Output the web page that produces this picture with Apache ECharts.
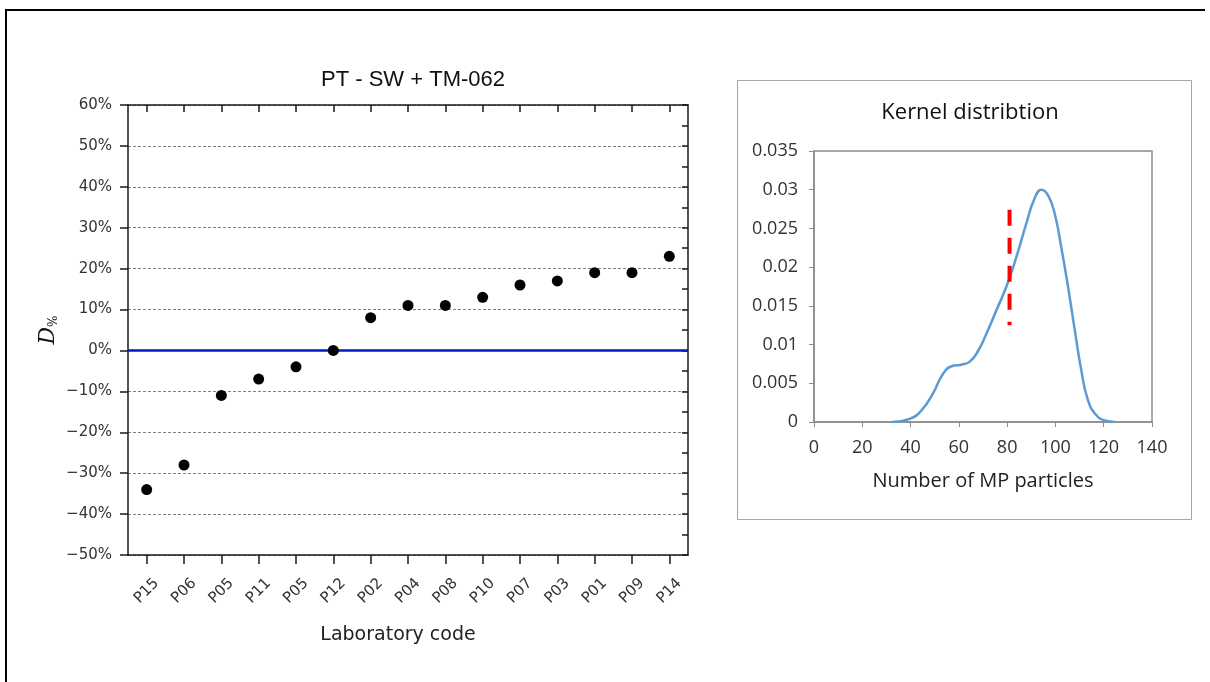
<!DOCTYPE html>
<html>
<head>
<meta charset="utf-8">
<script src="https://cdn.jsdelivr.net/npm/echarts@6/dist/echarts.min.js"></script>
<style>
html,body{margin:0;padding:0;background:#fff;}
#chart{width:1210px;height:682px;}
</style>
</head>
<body>
<div id="chart"></div>
<script>
// Left panel: laboratory deviations (D%)
const labCodes = ['P15','P06','P05','P11','P05','P12','P02','P04','P08','P10','P07','P03','P01','P09','P14'];
const labDeviation = [-34, -28, -11, -7, -4, 0, 8, 11, 11, 13, 16, 17, 19, 19, 23];
const leftTitle = 'PT - SW + TM-062';

// Right panel: kernel distribution
const kernelX = [32.3, 39.6, 44.5, 49.3, 53.4, 57.0, 61.0, 64.5, 68.0, 71.4, 75.5, 79.7, 83.8, 87.9, 91.4, 94.2, 96.9, 99.7, 102.4, 105.2, 108.0, 110.7, 113.5, 116.9, 120.4, 124.5];
const kernelY = [0, 0.0004, 0.0015, 0.0037, 0.0062, 0.0072, 0.0074, 0.0078, 0.0092, 0.0114, 0.0144, 0.0175, 0.0213, 0.0256, 0.0289, 0.030, 0.0293, 0.0269, 0.0226, 0.0175, 0.0119, 0.0067, 0.0028, 0.0009, 0.0002, 0];
const refLineX = 81;
const refLineY = [0.0274, 0.0125];
const rightTitle = 'Kernel distribtion';

const chart = echarts.init(document.getElementById('chart'));
const axisColor = '#1a1a1a';
const leftFont = 'DejaVu Sans';
const rightFont = 'Open Sans';

chart.setOption({
  animation: false,
  backgroundColor: '#fff',
  title: [
    {text: leftTitle, left: 408, top: 64, textAlign: 'center',
     textStyle: {fontFamily: 'Liberation Sans', fontSize: 22, fontWeight: 'normal', color: '#111'}},
    {text: rightTitle, left: 965, top: 97, textAlign: 'center',
     textStyle: {fontFamily: rightFont, fontSize: 22, fontWeight: 'normal', color: '#111'}}
  ],
  grid: [
    {left: 128, top: 105, width: 560, height: 450},
    {left: 814, top: 151, width: 338, height: 271, show: true, borderColor: '#8c8c8c', borderWidth: 1.5, backgroundColor: 'transparent'}
  ],
  xAxis: [
    {type: 'category', gridIndex: 0, position: 'bottom', data: labCodes, boundaryGap: true,
     axisLine: {show: true, onZero: false, lineStyle: {color: axisColor, width: 1.5}},
     axisTick: {show: true, interval: 0, alignWithLabel: true, inside: false, length: 9, lineStyle: {color: axisColor, width: 1.5}},
     axisLabel: {rotate: 45, align: 'center', verticalAlign: 'middle', fontFamily: leftFont, fontSize: 15, color: '#333', margin: 36, interval: 0},
     name: 'Laboratory code', nameLocation: 'middle', nameGap: 71,
     nameTextStyle: {fontFamily: leftFont, fontSize: 19, color: '#222', padding: [0, 20, 0, 0]}},
    {type: 'category', gridIndex: 0, position: 'top', data: labCodes, boundaryGap: true,
     axisLine: {show: true, onZero: false, lineStyle: {color: axisColor, width: 1.5}},
     axisTick: {show: true, interval: 0, alignWithLabel: true, inside: true, length: 7, lineStyle: {color: axisColor, width: 1.5}},
     axisLabel: {show: false}},
    {type: 'value', gridIndex: 1, min: 0, max: 140, interval: 20,
     axisLine: {show: true, onZero: false, lineStyle: {color: '#8c8c8c', width: 1.5}},
     axisTick: {show: true, length: 5, lineStyle: {color: '#8c8c8c'}},
     axisLabel: {fontFamily: rightFont, fontSize: 18, color: '#333', margin: 17},
     splitLine: {show: false},
     name: 'Number of MP particles', nameLocation: 'middle', nameGap: 49,
     nameTextStyle: {fontFamily: rightFont, fontSize: 20, color: '#222'}}
  ],
  yAxis: [
    {type: 'value', gridIndex: 0, min: -50, max: 60, interval: 10,
     axisLine: {show: true, onZero: false, lineStyle: {color: axisColor, width: 1.5}},
     axisTick: {show: true, inside: false, length: 8, lineStyle: {color: axisColor, width: 1.5}},
     axisLabel: {fontFamily: leftFont, fontSize: 15, color: '#333', margin: 16,
       formatter: v => (v < 0 ? '\u2212' + (-v) : v) + '%'},
     splitLine: {show: true, lineStyle: {color: '#808080', type: [3, 2], width: 1}},
     name: '{d|D}{s|%}', nameLocation: 'middle', nameRotate: 90, nameGap: 68,
     nameTextStyle: {rich: {
       d: {fontFamily: 'DejaVu Serif', fontStyle: 'italic', fontSize: 22, color: '#111'},
       s: {fontFamily: 'DejaVu Serif', fontSize: 12, color: '#111', padding: [12, 0, 0, 0]}
     }}},
    {type: 'value', gridIndex: 0, position: 'right', min: -50, max: 60, interval: 5,
     axisLine: {show: true, onZero: false, lineStyle: {color: axisColor, width: 1.5}},
     axisTick: {show: true, inside: true, length: 6, lineStyle: {color: axisColor, width: 1.5}},
     axisLabel: {show: false}, splitLine: {show: false}},
    {type: 'value', gridIndex: 1, min: 0, max: 0.035, interval: 0.005,
     axisLine: {show: true, onZero: false, lineStyle: {color: '#8c8c8c', width: 1.5}},
     axisTick: {show: true, length: 5, lineStyle: {color: '#8c8c8c'}},
     axisLabel: {fontFamily: rightFont, fontSize: 18, color: '#333', margin: 16},
     splitLine: {show: false}}
  ],
  series: [
    {type: 'scatter', xAxisIndex: 0, yAxisIndex: 0, data: [], z: 1,
     markLine: {silent: true, symbol: ['none', 'none'], label: {show: false},
       lineStyle: {color: '#0018c8', width: 2.5, type: 'solid'},
       data: [{yAxis: 0}]}},
    {type: 'scatter', xAxisIndex: 0, yAxisIndex: 0, data: labDeviation, z: 5,
     symbol: 'circle', symbolSize: 11, itemStyle: {color: '#000', opacity: 1}},
    {type: 'line', xAxisIndex: 2, yAxisIndex: 2, smooth: 0.5, showSymbol: false,
     data: kernelX.map((x, i) => [x, kernelY[i]]),
     lineStyle: {color: '#5b9bd5', width: 2.5}},
    {type: 'line', xAxisIndex: 2, yAxisIndex: 2, showSymbol: false,
     data: refLineY.map(y => [refLineX, y]),
     lineStyle: {color: '#ff0000', width: 4, type: [16, 12]}}
  ],
  graphic: [
    {type: 'polyline', shape: {points: [[6, 690], [6, 10], [1205, 10]]},
     style: {stroke: '#000', lineWidth: 2, fill: null}, silent: true},
    {type: 'rect', shape: {x: 737.5, y: 80.5, width: 454, height: 439},
     style: {stroke: '#a6a6a6', lineWidth: 1, fill: null}, silent: true}
  ]
});
</script>
</body>
</html>
